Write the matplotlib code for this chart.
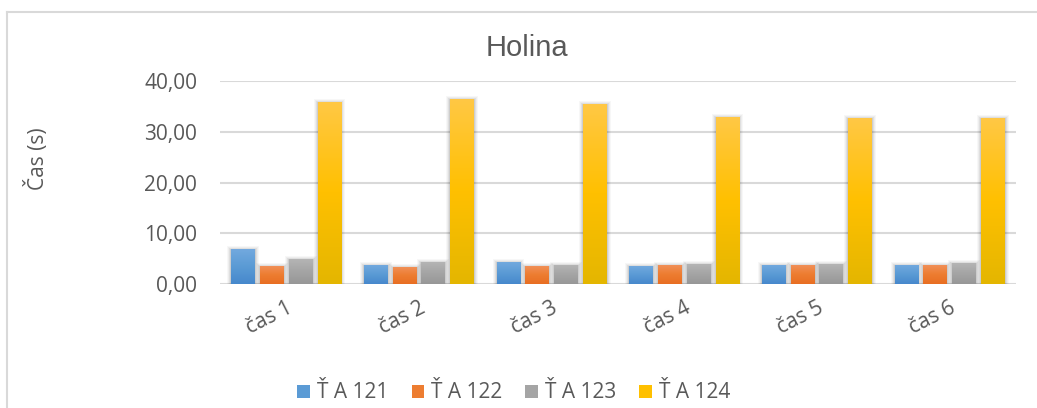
import numpy as np
import matplotlib
matplotlib.use("Agg")
import matplotlib.pyplot as plt
from matplotlib.patches import Patch, Rectangle
from matplotlib.lines import Line2D
from matplotlib.colors import LinearSegmentedColormap

categories = ["čas 1", "čas 2", "čas 3", "čas 4", "čas 5", "čas 6"]
series_names = ["Ť A 121", "Ť A 122", "Ť A 123", "Ť A 124"]
a121 = [6.90, 3.75, 4.35, 3.55, 3.75, 3.75]
a122 = [3.55, 3.35, 3.55, 3.75, 3.75, 3.75]
a123 = [4.95, 4.40, 3.75, 4.00, 4.00, 4.15]
a124 = [35.90, 36.50, 35.50, 32.90, 32.70, 32.70]
series = [a121, a122, a123, a124]
yticks = [0, 10, 20, 30, 40]
ytick_labels = ["0,00", "10,00", "20,00", "30,00", "40,00"]
title = "Holina"
ylabel = "Čas (s)"

base_colors = ["#5B9BD5", "#ED7D31", "#A5A5A5", "#FFC000"]
grad = [
    ("#74AADF", "#5B9BD5", "#4688CC"),
    ("#F1925C", "#ED7D31", "#E86E22"),
    ("#B6B6B6", "#A5A5A5", "#979797"),
    ("#FFC845", "#FFC000", "#E4B600"),
]

W, H = 1037, 408
fig = plt.figure(figsize=(W / 100, H / 100), dpi=100)
fig.patch.set_facecolor("white")
ax = fig.add_axes([220 / W, 1 - 284 / H, (1016 - 220) / W, (284 - 81) / H])

text_color = "#595959"
n = len(categories)
x = np.arange(n)
width = 0.18
step = 0.217
offsets = (np.arange(4) - 1.5) * step

ax.set_xlim(-0.5, n - 0.5)
ax.set_ylim(0, 40)

px_x = n / (1016 - 220)
px_y = 40 / (284 - 81)

for i, vals in enumerate(series):
    bars = ax.bar(x + offsets[i], vals, width, color=base_colors[i], zorder=3,
                  linewidth=0)
    cmap = LinearSegmentedColormap.from_list("g%d" % i, [grad[i][2], grad[i][1], grad[i][0]])
    for b in bars:
        bx, by = b.get_x(), b.get_y()
        bw, bh = b.get_width(), b.get_height()
        # soft shadow
        for k, a in zip([4, 3, 2, 1], [0.03, 0.04, 0.06, 0.08]):
            ax.add_patch(Rectangle((bx - k * px_x, by - 1.5 * px_y),
                                   bw + 2 * k * px_x, bh + (k + 0.5) * px_y,
                                   facecolor="black", alpha=a, linewidth=0,
                                   zorder=2))
        g = np.linspace(0, 1, 256).reshape(-1, 1)
        im = ax.imshow(g, cmap=cmap, aspect="auto", origin="lower",
                       extent=[bx, bx + bw, by, by + bh], zorder=3.5,
                       interpolation="bilinear")
        im.set_clip_path(b)

ax.set_xlim(-0.5, n - 0.5)
ax.set_ylim(0, 40)

for s in ax.spines.values():
    s.set_visible(False)
ax.set_yticks(yticks)
ax.set_yticklabels(ytick_labels)
ax.yaxis.grid(True, color="#D9D9D9", linewidth=1.5, zorder=0)
ax.set_axisbelow(True)
ax.tick_params(axis="y", length=0, pad=16.5, labelsize=15, labelcolor=text_color)
ax.set_xticks(x)
ax.set_xticklabels(categories, rotation=27, ha="right", rotation_mode="anchor",
                   fontsize=15, color=text_color)
ax.tick_params(axis="x", length=0, pad=10)
for lab in ax.get_xticklabels() + ax.get_yticklabels():
    lab.set_family("Open Sans")

fig.text(527 / W, 1 - 48 / H, title, ha="center", va="center", fontsize=21,
         family="Liberation Sans", color=text_color)
fig.text(37 / W, 1 - 159 / H, ylabel, ha="center", va="center", rotation=90,
         fontsize=15, family="Open Sans", color=text_color)

handles = [Patch(facecolor=c, edgecolor="none") for c in base_colors]
leg = fig.legend(handles, series_names, loc="center", bbox_to_anchor=(514 / W, 1 - 393 / H),
                 ncol=4, frameon=False, handlelength=0.6, handleheight=0.6,
                 handletextpad=0.35, columnspacing=1.1,
                 prop={"family": "Open Sans", "size": 15})
for t in leg.get_texts():
    t.set_color(text_color)

fig.add_artist(Line2D([7 / W, 7 / W], [0, 1 - 12 / H], transform=fig.transFigure,
                      color="#D9D9D9", linewidth=1.5))
fig.add_artist(Line2D([7 / W, 1], [1 - 12 / H, 1 - 12 / H], transform=fig.transFigure,
                      color="#D9D9D9", linewidth=1.5))

fig.savefig("out.png", dpi=100, facecolor="white")
